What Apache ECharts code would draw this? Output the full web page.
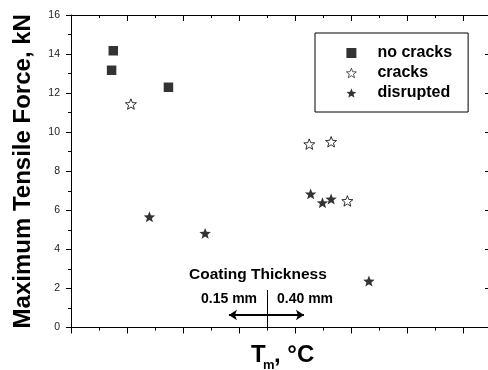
<!DOCTYPE html>
<html lang="en">
<head>
  <meta charset="UTF-8">
  <title>Maximum Tensile Force</title>
  <style>
    html, body { margin: 0; padding: 0; background: #fff; }
    #chart { width: 488px; height: 370px; }
  </style>
</head>
<body>
  <div id="chart"></div>
  <script src="https://cdn.jsdelivr.net/npm/echarts@6/dist/echarts.min.js"></script>
  <script>
    // x is in axis units (one minor tick = 1), y in kN
    var noCracks = [[1.45, 13.17], [1.51, 14.17], [3.48, 12.30]]
    var cracks = [[2.14, 11.44], [8.51, 9.39], [9.29, 9.51], [9.87, 6.48]]
    var disrupted = [[2.80, 5.67], [4.79, 4.82], [8.56, 6.84], [8.98, 6.39], [9.29, 6.58], [10.64, 2.38]]
    var yTicks = [0, 2, 4, 6, 8, 10, 12, 14, 16]

    // thickness annotation: arrow ends and divider line (axis units)
    var arrowFrom = [5.64, 0.64]
    var arrowTo = [8.32, 0.64]
    var dividerX = 7
    var dividerTop = 1.92

    var FONT = '"Liberation Sans", Arial, sans-serif'
    var STAR = 'path://M0,-10 L2.527,-3.479 L9.511,-3.09 L4.09,1.329 L5.878,8.09 L0,4.3 L-5.878,8.09 L-4.09,1.329 L-9.511,-3.09 L-2.527,-3.479 Z'

    var chart = echarts.init(document.getElementById('chart'))

    function xAxisOpt(pos, inside, majorLen) {
      return {
        type: 'value', position: pos, min: 0, max: 16, interval: 2,
        axisLine: { show: true, onZero: false, lineStyle: { color: '#000', width: 1 } },
        axisTick: { show: true, inside: inside, length: majorLen, lineStyle: { color: '#000' } },
        minorTick: { show: true, splitNumber: 2, length: 3, lineStyle: { color: '#000' } },
        axisLabel: { show: false },
        splitLine: { show: false }
      }
    }

    var option = {
      animation: false,
      grid: { left: 71, right: -31, top: 15, bottom: 42.5, outerBoundsMode: 'none' },
      legend: {
        orient: 'vertical', left: 315, top: 33,
        padding: [12, 16, 11, 31],
        itemWidth: 10, itemHeight: 10, itemGap: 4,
        borderColor: '#000', borderWidth: 1,
        selectedMode: false,
        textStyle: { fontFamily: FONT, fontWeight: 'bold', fontSize: 16, color: '#000', padding: [0, 0, 0, 16] },
        data: [
          { name: 'no cracks', icon: 'rect', itemStyle: { color: '#000', borderWidth: 0 } },
          { name: 'cracks', icon: STAR, itemStyle: { color: '#fff', borderColor: '#000', borderWidth: 0.8 } },
          { name: 'disrupted', icon: STAR, itemStyle: { color: '#000', borderWidth: 0 } }
        ]
      },
      xAxis: [xAxisOpt('bottom', false, 6), xAxisOpt('top', true, 6)],
      yAxis: [
        {
          type: 'value', position: 'left', min: 0, max: 16, interval: 2,
          name: 'Maximum Tensile Force, kN', nameLocation: 'middle', nameRotate: 90, nameGap: 36,
          nameTextStyle: { fontFamily: FONT, fontWeight: 'bold', fontSize: 24, color: '#000' },
          axisLine: { show: true, onZero: false, lineStyle: { color: '#000', width: 1 } },
          axisTick: { show: true, length: 5, lineStyle: { color: '#000' } },
          minorTick: { show: true, splitNumber: 2, length: 3, lineStyle: { color: '#000' } },
          axisLabel: {
            margin: 11, fontFamily: FONT, fontSize: 10.5, color: '#222',
            formatter: function (v) { return yTicks.indexOf(v) >= 0 ? String(v) : '' }
          },
          splitLine: { show: false }
        },
        {
          type: 'value', position: 'right', offset: -28, min: 0, max: 16, interval: 2,
          axisLine: { show: true, onZero: false, lineStyle: { color: '#000', width: 1 } },
          axisTick: { show: true, inside: true, length: 6, lineStyle: { color: '#000' } },
          minorTick: { show: true, splitNumber: 2, length: 3, lineStyle: { color: '#000' } },
          axisLabel: { show: false },
          splitLine: { show: false }
        }
      ],
      series: [
        {
          name: 'no cracks', type: 'scatter', symbol: 'rect', symbolSize: 9.5,
          itemStyle: { color: '#000' },
          data: noCracks,
          markLine: {
            silent: true, animation: false, symbolSize: 8,
            label: { show: false },
            emphasis: { disabled: true },
            data: [
              [
                { coord: arrowFrom, symbol: 'arrow', lineStyle: { color: '#000', width: 2, type: 'solid' } },
                { coord: arrowTo, symbol: 'arrow' }
              ],
              [
                { coord: [dividerX, 0], symbol: 'none', lineStyle: { color: '#000', width: 1, type: 'solid' } },
                { coord: [dividerX, dividerTop], symbol: 'none' }
              ]
            ]
          }
        },
        {
          name: 'cracks', type: 'scatter', symbol: STAR, symbolKeepAspect: true, symbolSize: 11,
          itemStyle: { color: '#fff', borderColor: '#000', borderWidth: 1 },
          data: cracks
        },
        {
          name: 'disrupted', type: 'scatter', symbol: STAR, symbolKeepAspect: true, symbolSize: 11.5,
          itemStyle: { color: '#000' },
          data: disrupted
        }
      ],
      graphic: [
        { type: 'text', left: 189, top: 267, silent: true,
          style: { text: 'Coating Thickness', font: 'bold 15.5px ' + FONT, fill: '#000' } },
        { type: 'text', left: 201, top: 292, silent: true,
          style: { text: '0.15 mm', font: 'bold 14px ' + FONT, fill: '#000' } },
        { type: 'text', left: 277, top: 292, silent: true,
          style: { text: '0.40 mm', font: 'bold 14px ' + FONT, fill: '#000' } },
        { type: 'text', left: 251, top: 343, silent: true,
          style: { text: 'T', font: 'bold 24px ' + FONT, fill: '#000' } },
        { type: 'text', left: 263, top: 359, silent: true,
          style: { text: 'm', font: 'bold 13px ' + FONT, fill: '#000' } },
        { type: 'text', left: 274, top: 343, silent: true,
          style: { text: ', \u00b0C', font: 'bold 24px ' + FONT, fill: '#000' } }
      ]
    }

    chart.setOption(option)
  </script>
</body>
</html>
